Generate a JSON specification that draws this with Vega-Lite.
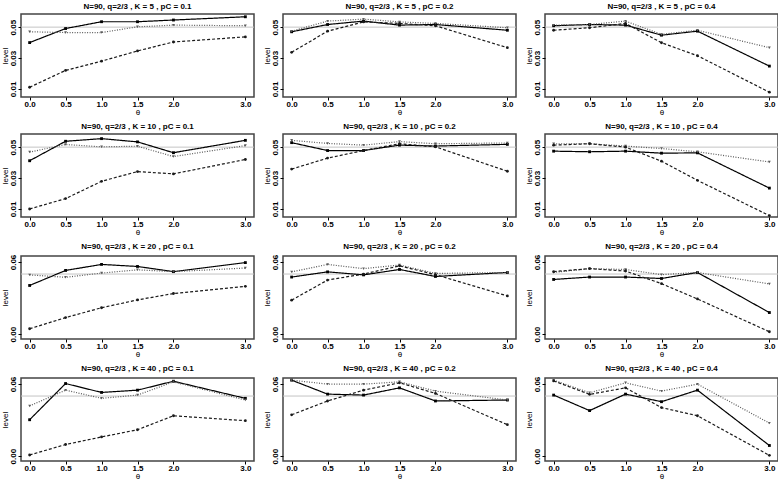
{
"$schema": "https://vega.github.io/schema/vega-lite/v6.json",
"padding": {"left": 0, "top": 2, "right": 0, "bottom": 0},
"background": "white",
"config": {
  "font": "Liberation Sans",
  "view": {"stroke": "#444", "strokeWidth": 1.5},
  "axis": {"labelFont": "Liberation Sans", "labelFontSize": 8, "labelFontWeight": "bold", "titleFont": "Liberation Sans", "titleFontSize": 8, "titleFontWeight": "normal", "tickSize": 3, "tickColor": "#000", "domain": false, "grid": false, "labelColor": "#000", "titleColor": "#000", "labelPadding": 1, "titlePadding": 1, "labelOverlap": false, "labelBound": false, "labelSeparation": -60, "labelFlush": false},
  "axisX": {"labelPadding": 0, "titlePadding": 0},
  "axisY": {"minExtent": 11, "maxExtent": 11},
  "title": {"fontSize": 8, "fontWeight": "bold", "font": "Liberation Sans", "offset": 3, "anchor": "middle", "frame": "group", "color": "#000"},
  "line": {"strokeWidth": 1.2},
  "point": {"filled": true, "size": 8, "opacity": 1}
},
"datasets": {
"d": [
{"k":5,"p":0.1,"s":"solid","t":0,"v":0.040},{"k":5,"p":0.1,"s":"solid","t":0.5,"v":0.0491},{"k":5,"p":0.1,"s":"solid","t":1,"v":0.0535},{"k":5,"p":0.1,"s":"solid","t":1.5,"v":0.0535},{"k":5,"p":0.1,"s":"solid","t":2,"v":0.0546},{"k":5,"p":0.1,"s":"solid","t":3,"v":0.0567},
{"k":5,"p":0.1,"s":"dotted","t":0,"v":0.047},{"k":5,"p":0.1,"s":"dotted","t":0.5,"v":0.0465},{"k":5,"p":0.1,"s":"dotted","t":1,"v":0.0465},{"k":5,"p":0.1,"s":"dotted","t":1.5,"v":0.0502},{"k":5,"p":0.1,"s":"dotted","t":2,"v":0.0513},{"k":5,"p":0.1,"s":"dotted","t":3,"v":0.0509},
{"k":5,"p":0.1,"s":"dashed","t":0,"v":0.0111},{"k":5,"p":0.1,"s":"dashed","t":0.5,"v":0.022},{"k":5,"p":0.1,"s":"dashed","t":1,"v":0.028},{"k":5,"p":0.1,"s":"dashed","t":1.5,"v":0.0346},{"k":5,"p":0.1,"s":"dashed","t":2,"v":0.0404},{"k":5,"p":0.1,"s":"dashed","t":3,"v":0.0437},

{"k":5,"p":0.2,"s":"solid","t":0,"v":0.047},{"k":5,"p":0.2,"s":"solid","t":0.5,"v":0.0517},{"k":5,"p":0.2,"s":"solid","t":1,"v":0.0539},{"k":5,"p":0.2,"s":"solid","t":1.5,"v":0.0513},{"k":5,"p":0.2,"s":"solid","t":2,"v":0.0517},{"k":5,"p":0.2,"s":"solid","t":3,"v":0.048},
{"k":5,"p":0.2,"s":"dotted","t":0,"v":0.0474},{"k":5,"p":0.2,"s":"dotted","t":0.5,"v":0.0539},{"k":5,"p":0.2,"s":"dotted","t":1,"v":0.0552},{"k":5,"p":0.2,"s":"dotted","t":1.5,"v":0.0534},{"k":5,"p":0.2,"s":"dotted","t":2,"v":0.0524},{"k":5,"p":0.2,"s":"dotted","t":3,"v":0.0496},
{"k":5,"p":0.2,"s":"dashed","t":0,"v":0.0337},{"k":5,"p":0.2,"s":"dashed","t":0.5,"v":0.0474},{"k":5,"p":0.2,"s":"dashed","t":1,"v":0.0534},{"k":5,"p":0.2,"s":"dashed","t":1.5,"v":0.0524},{"k":5,"p":0.2,"s":"dashed","t":2,"v":0.0509},{"k":5,"p":0.2,"s":"dashed","t":3,"v":0.0367},

{"k":5,"p":0.4,"s":"solid","t":0,"v":0.0509},{"k":5,"p":0.4,"s":"solid","t":0.5,"v":0.0517},{"k":5,"p":0.4,"s":"solid","t":1,"v":0.0513},{"k":5,"p":0.4,"s":"solid","t":1.5,"v":0.0448},{"k":5,"p":0.4,"s":"solid","t":2,"v":0.0474},{"k":5,"p":0.4,"s":"solid","t":3,"v":0.0248},
{"k":5,"p":0.4,"s":"dotted","t":0,"v":0.0513},{"k":5,"p":0.4,"s":"dotted","t":0.5,"v":0.0517},{"k":5,"p":0.4,"s":"dotted","t":1,"v":0.0539},{"k":5,"p":0.4,"s":"dotted","t":1.5,"v":0.0453},{"k":5,"p":0.4,"s":"dotted","t":2,"v":0.048},{"k":5,"p":0.4,"s":"dotted","t":3,"v":0.0367},
{"k":5,"p":0.4,"s":"dashed","t":0,"v":0.048},{"k":5,"p":0.4,"s":"dashed","t":0.5,"v":0.0496},{"k":5,"p":0.4,"s":"dashed","t":1,"v":0.0524},{"k":5,"p":0.4,"s":"dashed","t":1.5,"v":0.0399},{"k":5,"p":0.4,"s":"dashed","t":2,"v":0.0315},{"k":5,"p":0.4,"s":"dashed","t":3,"v":0.0079},

{"k":10,"p":0.1,"s":"solid","t":0,"v":0.0412},{"k":10,"p":0.1,"s":"solid","t":0.5,"v":0.0538},{"k":10,"p":0.1,"s":"solid","t":1,"v":0.0555},{"k":10,"p":0.1,"s":"solid","t":1.5,"v":0.0534},{"k":10,"p":0.1,"s":"solid","t":2,"v":0.0464},{"k":10,"p":0.1,"s":"solid","t":3,"v":0.0544},
{"k":10,"p":0.1,"s":"dotted","t":0,"v":0.0468},{"k":10,"p":0.1,"s":"dotted","t":0.5,"v":0.0517},{"k":10,"p":0.1,"s":"dotted","t":1,"v":0.0502},{"k":10,"p":0.1,"s":"dotted","t":1.5,"v":0.0506},{"k":10,"p":0.1,"s":"dotted","t":2,"v":0.0439},{"k":10,"p":0.1,"s":"dotted","t":3,"v":0.051},
{"k":10,"p":0.1,"s":"dashed","t":0,"v":0.010},{"k":10,"p":0.1,"s":"dashed","t":0.5,"v":0.0167},{"k":10,"p":0.1,"s":"dashed","t":1,"v":0.0279},{"k":10,"p":0.1,"s":"dashed","t":1.5,"v":0.0342},{"k":10,"p":0.1,"s":"dashed","t":2,"v":0.0327},{"k":10,"p":0.1,"s":"dashed","t":3,"v":0.042},

{"k":10,"p":0.2,"s":"solid","t":0,"v":0.0529},{"k":10,"p":0.2,"s":"solid","t":0.5,"v":0.0478},{"k":10,"p":0.2,"s":"solid","t":1,"v":0.0478},{"k":10,"p":0.2,"s":"solid","t":1.5,"v":0.0513},{"k":10,"p":0.2,"s":"solid","t":2,"v":0.0507},{"k":10,"p":0.2,"s":"solid","t":3,"v":0.0518},
{"k":10,"p":0.2,"s":"dotted","t":0,"v":0.0544},{"k":10,"p":0.2,"s":"dotted","t":0.5,"v":0.0524},{"k":10,"p":0.2,"s":"dotted","t":1,"v":0.0513},{"k":10,"p":0.2,"s":"dotted","t":1.5,"v":0.0536},{"k":10,"p":0.2,"s":"dotted","t":2,"v":0.0522},{"k":10,"p":0.2,"s":"dotted","t":3,"v":0.0527},
{"k":10,"p":0.2,"s":"dashed","t":0,"v":0.0358},{"k":10,"p":0.2,"s":"dashed","t":0.5,"v":0.0429},{"k":10,"p":0.2,"s":"dashed","t":1,"v":0.0478},{"k":10,"p":0.2,"s":"dashed","t":1.5,"v":0.0522},{"k":10,"p":0.2,"s":"dashed","t":2,"v":0.0502},{"k":10,"p":0.2,"s":"dashed","t":3,"v":0.0344},

{"k":10,"p":0.4,"s":"solid","t":0,"v":0.0474},{"k":10,"p":0.4,"s":"solid","t":0.5,"v":0.047},{"k":10,"p":0.4,"s":"solid","t":1,"v":0.0474},{"k":10,"p":0.4,"s":"solid","t":1.5,"v":0.0461},{"k":10,"p":0.4,"s":"solid","t":2,"v":0.0463},{"k":10,"p":0.4,"s":"solid","t":3,"v":0.0235},
{"k":10,"p":0.4,"s":"dotted","t":0,"v":0.0522},{"k":10,"p":0.4,"s":"dotted","t":0.5,"v":0.0522},{"k":10,"p":0.4,"s":"dotted","t":1,"v":0.0507},{"k":10,"p":0.4,"s":"dotted","t":1.5,"v":0.0491},{"k":10,"p":0.4,"s":"dotted","t":2,"v":0.047},{"k":10,"p":0.4,"s":"dotted","t":3,"v":0.0404},
{"k":10,"p":0.4,"s":"dashed","t":0,"v":0.0513},{"k":10,"p":0.4,"s":"dashed","t":0.5,"v":0.0522},{"k":10,"p":0.4,"s":"dashed","t":1,"v":0.050},{"k":10,"p":0.4,"s":"dashed","t":1.5,"v":0.0409},{"k":10,"p":0.4,"s":"dashed","t":2,"v":0.0285},{"k":10,"p":0.4,"s":"dashed","t":3,"v":0.0057},

{"k":20,"p":0.1,"s":"solid","t":0,"v":0.0405},{"k":20,"p":0.1,"s":"solid","t":0.5,"v":0.053},{"k":20,"p":0.1,"s":"solid","t":1,"v":0.058},{"k":20,"p":0.1,"s":"solid","t":1.5,"v":0.0563},{"k":20,"p":0.1,"s":"solid","t":2,"v":0.052},{"k":20,"p":0.1,"s":"solid","t":3,"v":0.0595},
{"k":20,"p":0.1,"s":"dotted","t":0,"v":0.0493},{"k":20,"p":0.1,"s":"dotted","t":0.5,"v":0.0473},{"k":20,"p":0.1,"s":"dotted","t":1,"v":0.0508},{"k":20,"p":0.1,"s":"dotted","t":1.5,"v":0.0535},{"k":20,"p":0.1,"s":"dotted","t":2,"v":0.052},{"k":20,"p":0.1,"s":"dotted","t":3,"v":0.055},
{"k":20,"p":0.1,"s":"dashed","t":0,"v":0.0045},{"k":20,"p":0.1,"s":"dashed","t":0.5,"v":0.0138},{"k":20,"p":0.1,"s":"dashed","t":1,"v":0.022},{"k":20,"p":0.1,"s":"dashed","t":1.5,"v":0.0285},{"k":20,"p":0.1,"s":"dashed","t":2,"v":0.0338},{"k":20,"p":0.1,"s":"dashed","t":3,"v":0.0398},

{"k":20,"p":0.2,"s":"solid","t":0,"v":0.0475},{"k":20,"p":0.2,"s":"solid","t":0.5,"v":0.0518},{"k":20,"p":0.2,"s":"solid","t":1,"v":0.0493},{"k":20,"p":0.2,"s":"solid","t":1.5,"v":0.0538},{"k":20,"p":0.2,"s":"solid","t":2,"v":0.048},{"k":20,"p":0.2,"s":"solid","t":3,"v":0.0513},
{"k":20,"p":0.2,"s":"dotted","t":0,"v":0.0518},{"k":20,"p":0.2,"s":"dotted","t":0.5,"v":0.058},{"k":20,"p":0.2,"s":"dotted","t":1,"v":0.0545},{"k":20,"p":0.2,"s":"dotted","t":1.5,"v":0.0575},{"k":20,"p":0.2,"s":"dotted","t":2,"v":0.0505},{"k":20,"p":0.2,"s":"dotted","t":3,"v":0.0513},
{"k":20,"p":0.2,"s":"dashed","t":0,"v":0.0283},{"k":20,"p":0.2,"s":"dashed","t":0.5,"v":0.045},{"k":20,"p":0.2,"s":"dashed","t":1,"v":0.050},{"k":20,"p":0.2,"s":"dashed","t":1.5,"v":0.0568},{"k":20,"p":0.2,"s":"dashed","t":2,"v":0.0495},{"k":20,"p":0.2,"s":"dashed","t":3,"v":0.0318},

{"k":20,"p":0.4,"s":"solid","t":0,"v":0.0455},{"k":20,"p":0.4,"s":"solid","t":0.5,"v":0.0475},{"k":20,"p":0.4,"s":"solid","t":1,"v":0.0475},{"k":20,"p":0.4,"s":"solid","t":1.5,"v":0.0463},{"k":20,"p":0.4,"s":"solid","t":2,"v":0.0513},{"k":20,"p":0.4,"s":"solid","t":3,"v":0.018},
{"k":20,"p":0.4,"s":"dotted","t":0,"v":0.0513},{"k":20,"p":0.4,"s":"dotted","t":0.5,"v":0.0545},{"k":20,"p":0.4,"s":"dotted","t":1,"v":0.0538},{"k":20,"p":0.4,"s":"dotted","t":1.5,"v":0.0495},{"k":20,"p":0.4,"s":"dotted","t":2,"v":0.0513},{"k":20,"p":0.4,"s":"dotted","t":3,"v":0.0418},
{"k":20,"p":0.4,"s":"dashed","t":0,"v":0.052},{"k":20,"p":0.4,"s":"dashed","t":0.5,"v":0.0545},{"k":20,"p":0.4,"s":"dashed","t":1,"v":0.0525},{"k":20,"p":0.4,"s":"dashed","t":1.5,"v":0.042},{"k":20,"p":0.4,"s":"dashed","t":2,"v":0.0293},{"k":20,"p":0.4,"s":"dashed","t":3,"v":0.002},

{"k":40,"p":0.1,"s":"solid","t":0,"v":0.0303},{"k":40,"p":0.1,"s":"solid","t":0.5,"v":0.0604},{"k":40,"p":0.1,"s":"solid","t":1,"v":0.053},{"k":40,"p":0.1,"s":"solid","t":1.5,"v":0.0549},{"k":40,"p":0.1,"s":"solid","t":2,"v":0.0623},{"k":40,"p":0.1,"s":"solid","t":3,"v":0.0481},
{"k":40,"p":0.1,"s":"dotted","t":0,"v":0.0418},{"k":40,"p":0.1,"s":"dotted","t":0.5,"v":0.0549},{"k":40,"p":0.1,"s":"dotted","t":1,"v":0.0481},{"k":40,"p":0.1,"s":"dotted","t":1.5,"v":0.0508},{"k":40,"p":0.1,"s":"dotted","t":2,"v":0.0618},{"k":40,"p":0.1,"s":"dotted","t":3,"v":0.0467},
{"k":40,"p":0.1,"s":"dashed","t":0,"v":0.001},{"k":40,"p":0.1,"s":"dashed","t":0.5,"v":0.0097},{"k":40,"p":0.1,"s":"dashed","t":1,"v":0.016},{"k":40,"p":0.1,"s":"dashed","t":1.5,"v":0.022},{"k":40,"p":0.1,"s":"dashed","t":2,"v":0.0336},{"k":40,"p":0.1,"s":"dashed","t":3,"v":0.0295},

{"k":40,"p":0.2,"s":"solid","t":0,"v":0.0632},{"k":40,"p":0.2,"s":"solid","t":0.5,"v":0.0516},{"k":40,"p":0.2,"s":"solid","t":1,"v":0.0508},{"k":40,"p":0.2,"s":"solid","t":1.5,"v":0.0568},{"k":40,"p":0.2,"s":"solid","t":2,"v":0.0459},{"k":40,"p":0.2,"s":"solid","t":3,"v":0.0467},
{"k":40,"p":0.2,"s":"dotted","t":0,"v":0.0632},{"k":40,"p":0.2,"s":"dotted","t":0.5,"v":0.0599},{"k":40,"p":0.2,"s":"dotted","t":1,"v":0.0599},{"k":40,"p":0.2,"s":"dotted","t":1.5,"v":0.0618},{"k":40,"p":0.2,"s":"dotted","t":2,"v":0.0541},{"k":40,"p":0.2,"s":"dotted","t":3,"v":0.0467},
{"k":40,"p":0.2,"s":"dashed","t":0,"v":0.0344},{"k":40,"p":0.2,"s":"dashed","t":0.5,"v":0.0459},{"k":40,"p":0.2,"s":"dashed","t":1,"v":0.0549},{"k":40,"p":0.2,"s":"dashed","t":1.5,"v":0.061},{"k":40,"p":0.2,"s":"dashed","t":2,"v":0.0522},{"k":40,"p":0.2,"s":"dashed","t":3,"v":0.0262},

{"k":40,"p":0.4,"s":"solid","t":0,"v":0.0508},{"k":40,"p":0.4,"s":"solid","t":0.5,"v":0.0379},{"k":40,"p":0.4,"s":"solid","t":1,"v":0.0516},{"k":40,"p":0.4,"s":"solid","t":1.5,"v":0.0453},{"k":40,"p":0.4,"s":"solid","t":2,"v":0.0549},{"k":40,"p":0.4,"s":"solid","t":3,"v":0.0089},
{"k":40,"p":0.4,"s":"dotted","t":0,"v":0.0632},{"k":40,"p":0.4,"s":"dotted","t":0.5,"v":0.0527},{"k":40,"p":0.4,"s":"dotted","t":1,"v":0.061},{"k":40,"p":0.4,"s":"dotted","t":1.5,"v":0.0541},{"k":40,"p":0.4,"s":"dotted","t":2,"v":0.0599},{"k":40,"p":0.4,"s":"dotted","t":3,"v":0.0275},
{"k":40,"p":0.4,"s":"dashed","t":0,"v":0.0626},{"k":40,"p":0.4,"s":"dashed","t":0.5,"v":0.0514},{"k":40,"p":0.4,"s":"dashed","t":1,"v":0.0568},{"k":40,"p":0.4,"s":"dashed","t":1.5,"v":0.0404},{"k":40,"p":0.4,"s":"dashed","t":2,"v":0.0336},{"k":40,"p":0.4,"s":"dashed","t":3,"v":0.0007}
],
"ref": [{"v": 0.05}]
},
"spacing": 5,
"vconcat": [
{"spacing": 6, "hconcat": [
{"title": "N=90, q=2/3 , K = 5 , pC = 0.1", "width": 233, "height": 83, "layer": [
 {"data": {"name": "ref"}, "mark": {"type": "rule", "color": "#c4c4c4", "strokeWidth": 1}, "encoding": {"y": {"field": "v", "type": "quantitative", "scale": {"domain": [0.0048, 0.0585], "nice": false, "zero": false}, "axis": {"title": "level", "labelAngle": 270, "labelOverlap": false, "labelSeparation": -60, "values": [0.01, 0.02, 0.03, 0.04, 0.05], "labelExpr": "round(datum.value*100)%2==1 ? format(datum.value,'.2f') : ''"}}}},
 {"data": {"name": "d"}, "transform": [{"filter": "datum.k==5 && datum.p==0.1"}], "mark": "line", "encoding": {"x": {"field": "t", "type": "quantitative", "scale": {"domain": [-0.12, 3.12], "nice": false, "zero": false}, "axis": {"title": "θ", "values": [0, 0.5, 1, 1.5, 2, 3], "format": ".1f"}}, "y": {"field": "v", "type": "quantitative", "scale": {"domain": [0.0048, 0.0585], "nice": false, "zero": false}, "axis": {"title": "level", "labelAngle": 270, "labelOverlap": false, "labelSeparation": -60, "values": [0.01, 0.02, 0.03, 0.04, 0.05], "labelExpr": "round(datum.value*100)%2==1 ? format(datum.value,'.2f') : ''"}}, "color": {"field": "s", "type": "nominal", "scale": {"domain": ["solid", "dashed", "dotted"], "range": ["#000000", "#1a1a1a", "#5a5a5a"]}, "legend": null}, "strokeDash": {"field": "s", "type": "nominal", "scale": {"domain": ["solid", "dashed", "dotted"], "range": [[1, 0], [3, 2], [1, 1.5]]}, "legend": null}}},
 {"data": {"name": "d"}, "transform": [{"filter": "datum.k==5 && datum.p==0.1"}], "mark": "point", "encoding": {"x": {"field": "t", "type": "quantitative"}, "y": {"field": "v", "type": "quantitative"}, "color": {"field": "s", "type": "nominal", "legend": null}, "shape": {"field": "s", "type": "nominal", "scale": {"domain": ["solid", "dashed", "dotted"], "range": ["square", "circle", "triangle-down"]}, "legend": null}}}
]},
{"title": "N=90, q=2/3 , K = 5 , pC = 0.2", "width": 233, "height": 83, "layer": [
 {"data": {"name": "ref"}, "mark": {"type": "rule", "color": "#c4c4c4", "strokeWidth": 1}, "encoding": {"y": {"field": "v", "type": "quantitative", "scale": {"domain": [0.0048, 0.0585], "nice": false, "zero": false}, "axis": {"title": "level", "labelAngle": 270, "labelOverlap": false, "labelSeparation": -60, "values": [0.01, 0.02, 0.03, 0.04, 0.05], "labelExpr": "round(datum.value*100)%2==1 ? format(datum.value,'.2f') : ''"}}}},
 {"data": {"name": "d"}, "transform": [{"filter": "datum.k==5 && datum.p==0.2"}], "mark": "line", "encoding": {"x": {"field": "t", "type": "quantitative", "scale": {"domain": [-0.12, 3.12], "nice": false, "zero": false}, "axis": {"title": "θ", "values": [0, 0.5, 1, 1.5, 2, 3], "format": ".1f"}}, "y": {"field": "v", "type": "quantitative", "scale": {"domain": [0.0048, 0.0585], "nice": false, "zero": false}, "axis": {"title": "level", "labelAngle": 270, "labelOverlap": false, "labelSeparation": -60, "values": [0.01, 0.02, 0.03, 0.04, 0.05], "labelExpr": "round(datum.value*100)%2==1 ? format(datum.value,'.2f') : ''"}}, "color": {"field": "s", "type": "nominal", "scale": {"domain": ["solid", "dashed", "dotted"], "range": ["#000000", "#1a1a1a", "#5a5a5a"]}, "legend": null}, "strokeDash": {"field": "s", "type": "nominal", "scale": {"domain": ["solid", "dashed", "dotted"], "range": [[1, 0], [3, 2], [1, 1.5]]}, "legend": null}}},
 {"data": {"name": "d"}, "transform": [{"filter": "datum.k==5 && datum.p==0.2"}], "mark": "point", "encoding": {"x": {"field": "t", "type": "quantitative"}, "y": {"field": "v", "type": "quantitative"}, "color": {"field": "s", "type": "nominal", "legend": null}, "shape": {"field": "s", "type": "nominal", "scale": {"domain": ["solid", "dashed", "dotted"], "range": ["square", "circle", "triangle-down"]}, "legend": null}}}
]},
{"title": "N=90, q=2/3 , K = 5 , pC = 0.4", "width": 233, "height": 83, "layer": [
 {"data": {"name": "ref"}, "mark": {"type": "rule", "color": "#c4c4c4", "strokeWidth": 1}, "encoding": {"y": {"field": "v", "type": "quantitative", "scale": {"domain": [0.0048, 0.0585], "nice": false, "zero": false}, "axis": {"title": "level", "labelAngle": 270, "labelOverlap": false, "labelSeparation": -60, "values": [0.01, 0.02, 0.03, 0.04, 0.05], "labelExpr": "round(datum.value*100)%2==1 ? format(datum.value,'.2f') : ''"}}}},
 {"data": {"name": "d"}, "transform": [{"filter": "datum.k==5 && datum.p==0.4"}], "mark": "line", "encoding": {"x": {"field": "t", "type": "quantitative", "scale": {"domain": [-0.12, 3.12], "nice": false, "zero": false}, "axis": {"title": "θ", "values": [0, 0.5, 1, 1.5, 2, 3], "format": ".1f"}}, "y": {"field": "v", "type": "quantitative", "scale": {"domain": [0.0048, 0.0585], "nice": false, "zero": false}, "axis": {"title": "level", "labelAngle": 270, "labelOverlap": false, "labelSeparation": -60, "values": [0.01, 0.02, 0.03, 0.04, 0.05], "labelExpr": "round(datum.value*100)%2==1 ? format(datum.value,'.2f') : ''"}}, "color": {"field": "s", "type": "nominal", "scale": {"domain": ["solid", "dashed", "dotted"], "range": ["#000000", "#1a1a1a", "#5a5a5a"]}, "legend": null}, "strokeDash": {"field": "s", "type": "nominal", "scale": {"domain": ["solid", "dashed", "dotted"], "range": [[1, 0], [3, 2], [1, 1.5]]}, "legend": null}}},
 {"data": {"name": "d"}, "transform": [{"filter": "datum.k==5 && datum.p==0.4"}], "mark": "point", "encoding": {"x": {"field": "t", "type": "quantitative"}, "y": {"field": "v", "type": "quantitative"}, "color": {"field": "s", "type": "nominal", "legend": null}, "shape": {"field": "s", "type": "nominal", "scale": {"domain": ["solid", "dashed", "dotted"], "range": ["square", "circle", "triangle-down"]}, "legend": null}}}
]}
]},
{"spacing": 6, "hconcat": [
{"title": "N=90, q=2/3 , K = 10 , pC = 0.1", "width": 233, "height": 83, "layer": [
 {"data": {"name": "ref"}, "mark": {"type": "rule", "color": "#c4c4c4", "strokeWidth": 1}, "encoding": {"y": {"field": "v", "type": "quantitative", "scale": {"domain": [0.0048, 0.0585], "nice": false, "zero": false}, "axis": {"title": "level", "labelAngle": 270, "labelOverlap": false, "labelSeparation": -60, "values": [0.01, 0.02, 0.03, 0.04, 0.05], "labelExpr": "round(datum.value*100)%2==1 ? format(datum.value,'.2f') : ''"}}}},
 {"data": {"name": "d"}, "transform": [{"filter": "datum.k==10 && datum.p==0.1"}], "mark": "line", "encoding": {"x": {"field": "t", "type": "quantitative", "scale": {"domain": [-0.12, 3.12], "nice": false, "zero": false}, "axis": {"title": "θ", "values": [0, 0.5, 1, 1.5, 2, 3], "format": ".1f"}}, "y": {"field": "v", "type": "quantitative", "scale": {"domain": [0.0048, 0.0585], "nice": false, "zero": false}, "axis": {"title": "level", "labelAngle": 270, "labelOverlap": false, "labelSeparation": -60, "values": [0.01, 0.02, 0.03, 0.04, 0.05], "labelExpr": "round(datum.value*100)%2==1 ? format(datum.value,'.2f') : ''"}}, "color": {"field": "s", "type": "nominal", "scale": {"domain": ["solid", "dashed", "dotted"], "range": ["#000000", "#1a1a1a", "#5a5a5a"]}, "legend": null}, "strokeDash": {"field": "s", "type": "nominal", "scale": {"domain": ["solid", "dashed", "dotted"], "range": [[1, 0], [3, 2], [1, 1.5]]}, "legend": null}}},
 {"data": {"name": "d"}, "transform": [{"filter": "datum.k==10 && datum.p==0.1"}], "mark": "point", "encoding": {"x": {"field": "t", "type": "quantitative"}, "y": {"field": "v", "type": "quantitative"}, "color": {"field": "s", "type": "nominal", "legend": null}, "shape": {"field": "s", "type": "nominal", "scale": {"domain": ["solid", "dashed", "dotted"], "range": ["square", "circle", "triangle-down"]}, "legend": null}}}
]},
{"title": "N=90, q=2/3 , K = 10 , pC = 0.2", "width": 233, "height": 83, "layer": [
 {"data": {"name": "ref"}, "mark": {"type": "rule", "color": "#c4c4c4", "strokeWidth": 1}, "encoding": {"y": {"field": "v", "type": "quantitative", "scale": {"domain": [0.0048, 0.0585], "nice": false, "zero": false}, "axis": {"title": "level", "labelAngle": 270, "labelOverlap": false, "labelSeparation": -60, "values": [0.01, 0.02, 0.03, 0.04, 0.05], "labelExpr": "round(datum.value*100)%2==1 ? format(datum.value,'.2f') : ''"}}}},
 {"data": {"name": "d"}, "transform": [{"filter": "datum.k==10 && datum.p==0.2"}], "mark": "line", "encoding": {"x": {"field": "t", "type": "quantitative", "scale": {"domain": [-0.12, 3.12], "nice": false, "zero": false}, "axis": {"title": "θ", "values": [0, 0.5, 1, 1.5, 2, 3], "format": ".1f"}}, "y": {"field": "v", "type": "quantitative", "scale": {"domain": [0.0048, 0.0585], "nice": false, "zero": false}, "axis": {"title": "level", "labelAngle": 270, "labelOverlap": false, "labelSeparation": -60, "values": [0.01, 0.02, 0.03, 0.04, 0.05], "labelExpr": "round(datum.value*100)%2==1 ? format(datum.value,'.2f') : ''"}}, "color": {"field": "s", "type": "nominal", "scale": {"domain": ["solid", "dashed", "dotted"], "range": ["#000000", "#1a1a1a", "#5a5a5a"]}, "legend": null}, "strokeDash": {"field": "s", "type": "nominal", "scale": {"domain": ["solid", "dashed", "dotted"], "range": [[1, 0], [3, 2], [1, 1.5]]}, "legend": null}}},
 {"data": {"name": "d"}, "transform": [{"filter": "datum.k==10 && datum.p==0.2"}], "mark": "point", "encoding": {"x": {"field": "t", "type": "quantitative"}, "y": {"field": "v", "type": "quantitative"}, "color": {"field": "s", "type": "nominal", "legend": null}, "shape": {"field": "s", "type": "nominal", "scale": {"domain": ["solid", "dashed", "dotted"], "range": ["square", "circle", "triangle-down"]}, "legend": null}}}
]},
{"title": "N=90, q=2/3 , K = 10 , pC = 0.4", "width": 233, "height": 83, "layer": [
 {"data": {"name": "ref"}, "mark": {"type": "rule", "color": "#c4c4c4", "strokeWidth": 1}, "encoding": {"y": {"field": "v", "type": "quantitative", "scale": {"domain": [0.0048, 0.0585], "nice": false, "zero": false}, "axis": {"title": "level", "labelAngle": 270, "labelOverlap": false, "labelSeparation": -60, "values": [0.01, 0.02, 0.03, 0.04, 0.05], "labelExpr": "round(datum.value*100)%2==1 ? format(datum.value,'.2f') : ''"}}}},
 {"data": {"name": "d"}, "transform": [{"filter": "datum.k==10 && datum.p==0.4"}], "mark": "line", "encoding": {"x": {"field": "t", "type": "quantitative", "scale": {"domain": [-0.12, 3.12], "nice": false, "zero": false}, "axis": {"title": "θ", "values": [0, 0.5, 1, 1.5, 2, 3], "format": ".1f"}}, "y": {"field": "v", "type": "quantitative", "scale": {"domain": [0.0048, 0.0585], "nice": false, "zero": false}, "axis": {"title": "level", "labelAngle": 270, "labelOverlap": false, "labelSeparation": -60, "values": [0.01, 0.02, 0.03, 0.04, 0.05], "labelExpr": "round(datum.value*100)%2==1 ? format(datum.value,'.2f') : ''"}}, "color": {"field": "s", "type": "nominal", "scale": {"domain": ["solid", "dashed", "dotted"], "range": ["#000000", "#1a1a1a", "#5a5a5a"]}, "legend": null}, "strokeDash": {"field": "s", "type": "nominal", "scale": {"domain": ["solid", "dashed", "dotted"], "range": [[1, 0], [3, 2], [1, 1.5]]}, "legend": null}}},
 {"data": {"name": "d"}, "transform": [{"filter": "datum.k==10 && datum.p==0.4"}], "mark": "point", "encoding": {"x": {"field": "t", "type": "quantitative"}, "y": {"field": "v", "type": "quantitative"}, "color": {"field": "s", "type": "nominal", "legend": null}, "shape": {"field": "s", "type": "nominal", "scale": {"domain": ["solid", "dashed", "dotted"], "range": ["square", "circle", "triangle-down"]}, "legend": null}}}
]}
]},
{"spacing": 6, "hconcat": [
{"title": "N=90, q=2/3 , K = 20 , pC = 0.1", "width": 233, "height": 83, "layer": [
 {"data": {"name": "ref"}, "mark": {"type": "rule", "color": "#c4c4c4", "strokeWidth": 1}, "encoding": {"y": {"field": "v", "type": "quantitative", "scale": {"domain": [-0.004, 0.065], "nice": false, "zero": false}, "axis": {"title": "level", "labelAngle": 270, "labelOverlap": false, "labelSeparation": -60, "values": [0, 0.01, 0.02, 0.03, 0.04, 0.05, 0.06], "labelExpr": "indexof(['0.00','0.02','0.04','0.06'], format(datum.value,'.2f')) >= 0 ? format(datum.value,'.2f') : ''"}}}},
 {"data": {"name": "d"}, "transform": [{"filter": "datum.k==20 && datum.p==0.1"}], "mark": "line", "encoding": {"x": {"field": "t", "type": "quantitative", "scale": {"domain": [-0.12, 3.12], "nice": false, "zero": false}, "axis": {"title": "θ", "values": [0, 0.5, 1, 1.5, 2, 3], "format": ".1f"}}, "y": {"field": "v", "type": "quantitative", "scale": {"domain": [-0.004, 0.065], "nice": false, "zero": false}, "axis": {"title": "level", "labelAngle": 270, "labelOverlap": false, "labelSeparation": -60, "values": [0, 0.01, 0.02, 0.03, 0.04, 0.05, 0.06], "labelExpr": "indexof(['0.00','0.02','0.04','0.06'], format(datum.value,'.2f')) >= 0 ? format(datum.value,'.2f') : ''"}}, "color": {"field": "s", "type": "nominal", "scale": {"domain": ["solid", "dashed", "dotted"], "range": ["#000000", "#1a1a1a", "#5a5a5a"]}, "legend": null}, "strokeDash": {"field": "s", "type": "nominal", "scale": {"domain": ["solid", "dashed", "dotted"], "range": [[1, 0], [3, 2], [1, 1.5]]}, "legend": null}}},
 {"data": {"name": "d"}, "transform": [{"filter": "datum.k==20 && datum.p==0.1"}], "mark": "point", "encoding": {"x": {"field": "t", "type": "quantitative"}, "y": {"field": "v", "type": "quantitative"}, "color": {"field": "s", "type": "nominal", "legend": null}, "shape": {"field": "s", "type": "nominal", "scale": {"domain": ["solid", "dashed", "dotted"], "range": ["square", "circle", "triangle-down"]}, "legend": null}}}
]},
{"title": "N=90, q=2/3 , K = 20 , pC = 0.2", "width": 233, "height": 83, "layer": [
 {"data": {"name": "ref"}, "mark": {"type": "rule", "color": "#c4c4c4", "strokeWidth": 1}, "encoding": {"y": {"field": "v", "type": "quantitative", "scale": {"domain": [-0.004, 0.065], "nice": false, "zero": false}, "axis": {"title": "level", "labelAngle": 270, "labelOverlap": false, "labelSeparation": -60, "values": [0, 0.01, 0.02, 0.03, 0.04, 0.05, 0.06], "labelExpr": "indexof(['0.00','0.02','0.04','0.06'], format(datum.value,'.2f')) >= 0 ? format(datum.value,'.2f') : ''"}}}},
 {"data": {"name": "d"}, "transform": [{"filter": "datum.k==20 && datum.p==0.2"}], "mark": "line", "encoding": {"x": {"field": "t", "type": "quantitative", "scale": {"domain": [-0.12, 3.12], "nice": false, "zero": false}, "axis": {"title": "θ", "values": [0, 0.5, 1, 1.5, 2, 3], "format": ".1f"}}, "y": {"field": "v", "type": "quantitative", "scale": {"domain": [-0.004, 0.065], "nice": false, "zero": false}, "axis": {"title": "level", "labelAngle": 270, "labelOverlap": false, "labelSeparation": -60, "values": [0, 0.01, 0.02, 0.03, 0.04, 0.05, 0.06], "labelExpr": "indexof(['0.00','0.02','0.04','0.06'], format(datum.value,'.2f')) >= 0 ? format(datum.value,'.2f') : ''"}}, "color": {"field": "s", "type": "nominal", "scale": {"domain": ["solid", "dashed", "dotted"], "range": ["#000000", "#1a1a1a", "#5a5a5a"]}, "legend": null}, "strokeDash": {"field": "s", "type": "nominal", "scale": {"domain": ["solid", "dashed", "dotted"], "range": [[1, 0], [3, 2], [1, 1.5]]}, "legend": null}}},
 {"data": {"name": "d"}, "transform": [{"filter": "datum.k==20 && datum.p==0.2"}], "mark": "point", "encoding": {"x": {"field": "t", "type": "quantitative"}, "y": {"field": "v", "type": "quantitative"}, "color": {"field": "s", "type": "nominal", "legend": null}, "shape": {"field": "s", "type": "nominal", "scale": {"domain": ["solid", "dashed", "dotted"], "range": ["square", "circle", "triangle-down"]}, "legend": null}}}
]},
{"title": "N=90, q=2/3 , K = 20 , pC = 0.4", "width": 233, "height": 83, "layer": [
 {"data": {"name": "ref"}, "mark": {"type": "rule", "color": "#c4c4c4", "strokeWidth": 1}, "encoding": {"y": {"field": "v", "type": "quantitative", "scale": {"domain": [-0.004, 0.065], "nice": false, "zero": false}, "axis": {"title": "level", "labelAngle": 270, "labelOverlap": false, "labelSeparation": -60, "values": [0, 0.01, 0.02, 0.03, 0.04, 0.05, 0.06], "labelExpr": "indexof(['0.00','0.02','0.04','0.06'], format(datum.value,'.2f')) >= 0 ? format(datum.value,'.2f') : ''"}}}},
 {"data": {"name": "d"}, "transform": [{"filter": "datum.k==20 && datum.p==0.4"}], "mark": "line", "encoding": {"x": {"field": "t", "type": "quantitative", "scale": {"domain": [-0.12, 3.12], "nice": false, "zero": false}, "axis": {"title": "θ", "values": [0, 0.5, 1, 1.5, 2, 3], "format": ".1f"}}, "y": {"field": "v", "type": "quantitative", "scale": {"domain": [-0.004, 0.065], "nice": false, "zero": false}, "axis": {"title": "level", "labelAngle": 270, "labelOverlap": false, "labelSeparation": -60, "values": [0, 0.01, 0.02, 0.03, 0.04, 0.05, 0.06], "labelExpr": "indexof(['0.00','0.02','0.04','0.06'], format(datum.value,'.2f')) >= 0 ? format(datum.value,'.2f') : ''"}}, "color": {"field": "s", "type": "nominal", "scale": {"domain": ["solid", "dashed", "dotted"], "range": ["#000000", "#1a1a1a", "#5a5a5a"]}, "legend": null}, "strokeDash": {"field": "s", "type": "nominal", "scale": {"domain": ["solid", "dashed", "dotted"], "range": [[1, 0], [3, 2], [1, 1.5]]}, "legend": null}}},
 {"data": {"name": "d"}, "transform": [{"filter": "datum.k==20 && datum.p==0.4"}], "mark": "point", "encoding": {"x": {"field": "t", "type": "quantitative"}, "y": {"field": "v", "type": "quantitative"}, "color": {"field": "s", "type": "nominal", "legend": null}, "shape": {"field": "s", "type": "nominal", "scale": {"domain": ["solid", "dashed", "dotted"], "range": ["square", "circle", "triangle-down"]}, "legend": null}}}
]}
]},
{"spacing": 6, "hconcat": [
{"title": "N=90, q=2/3 , K = 40 , pC = 0.1", "width": 233, "height": 83, "layer": [
 {"data": {"name": "ref"}, "mark": {"type": "rule", "color": "#c4c4c4", "strokeWidth": 1}, "encoding": {"y": {"field": "v", "type": "quantitative", "scale": {"domain": [-0.004, 0.065], "nice": false, "zero": false}, "axis": {"title": "level", "labelAngle": 270, "labelOverlap": false, "labelSeparation": -60, "values": [0, 0.01, 0.02, 0.03, 0.04, 0.05, 0.06], "labelExpr": "indexof(['0.00','0.02','0.04','0.06'], format(datum.value,'.2f')) >= 0 ? format(datum.value,'.2f') : ''"}}}},
 {"data": {"name": "d"}, "transform": [{"filter": "datum.k==40 && datum.p==0.1"}], "mark": "line", "encoding": {"x": {"field": "t", "type": "quantitative", "scale": {"domain": [-0.12, 3.12], "nice": false, "zero": false}, "axis": {"title": "θ", "values": [0, 0.5, 1, 1.5, 2, 3], "format": ".1f"}}, "y": {"field": "v", "type": "quantitative", "scale": {"domain": [-0.004, 0.065], "nice": false, "zero": false}, "axis": {"title": "level", "labelAngle": 270, "labelOverlap": false, "labelSeparation": -60, "values": [0, 0.01, 0.02, 0.03, 0.04, 0.05, 0.06], "labelExpr": "indexof(['0.00','0.02','0.04','0.06'], format(datum.value,'.2f')) >= 0 ? format(datum.value,'.2f') : ''"}}, "color": {"field": "s", "type": "nominal", "scale": {"domain": ["solid", "dashed", "dotted"], "range": ["#000000", "#1a1a1a", "#5a5a5a"]}, "legend": null}, "strokeDash": {"field": "s", "type": "nominal", "scale": {"domain": ["solid", "dashed", "dotted"], "range": [[1, 0], [3, 2], [1, 1.5]]}, "legend": null}}},
 {"data": {"name": "d"}, "transform": [{"filter": "datum.k==40 && datum.p==0.1"}], "mark": "point", "encoding": {"x": {"field": "t", "type": "quantitative"}, "y": {"field": "v", "type": "quantitative"}, "color": {"field": "s", "type": "nominal", "legend": null}, "shape": {"field": "s", "type": "nominal", "scale": {"domain": ["solid", "dashed", "dotted"], "range": ["square", "circle", "triangle-down"]}, "legend": null}}}
]},
{"title": "N=90, q=2/3 , K = 40 , pC = 0.2", "width": 233, "height": 83, "layer": [
 {"data": {"name": "ref"}, "mark": {"type": "rule", "color": "#c4c4c4", "strokeWidth": 1}, "encoding": {"y": {"field": "v", "type": "quantitative", "scale": {"domain": [-0.004, 0.065], "nice": false, "zero": false}, "axis": {"title": "level", "labelAngle": 270, "labelOverlap": false, "labelSeparation": -60, "values": [0, 0.01, 0.02, 0.03, 0.04, 0.05, 0.06], "labelExpr": "indexof(['0.00','0.02','0.04','0.06'], format(datum.value,'.2f')) >= 0 ? format(datum.value,'.2f') : ''"}}}},
 {"data": {"name": "d"}, "transform": [{"filter": "datum.k==40 && datum.p==0.2"}], "mark": "line", "encoding": {"x": {"field": "t", "type": "quantitative", "scale": {"domain": [-0.12, 3.12], "nice": false, "zero": false}, "axis": {"title": "θ", "values": [0, 0.5, 1, 1.5, 2, 3], "format": ".1f"}}, "y": {"field": "v", "type": "quantitative", "scale": {"domain": [-0.004, 0.065], "nice": false, "zero": false}, "axis": {"title": "level", "labelAngle": 270, "labelOverlap": false, "labelSeparation": -60, "values": [0, 0.01, 0.02, 0.03, 0.04, 0.05, 0.06], "labelExpr": "indexof(['0.00','0.02','0.04','0.06'], format(datum.value,'.2f')) >= 0 ? format(datum.value,'.2f') : ''"}}, "color": {"field": "s", "type": "nominal", "scale": {"domain": ["solid", "dashed", "dotted"], "range": ["#000000", "#1a1a1a", "#5a5a5a"]}, "legend": null}, "strokeDash": {"field": "s", "type": "nominal", "scale": {"domain": ["solid", "dashed", "dotted"], "range": [[1, 0], [3, 2], [1, 1.5]]}, "legend": null}}},
 {"data": {"name": "d"}, "transform": [{"filter": "datum.k==40 && datum.p==0.2"}], "mark": "point", "encoding": {"x": {"field": "t", "type": "quantitative"}, "y": {"field": "v", "type": "quantitative"}, "color": {"field": "s", "type": "nominal", "legend": null}, "shape": {"field": "s", "type": "nominal", "scale": {"domain": ["solid", "dashed", "dotted"], "range": ["square", "circle", "triangle-down"]}, "legend": null}}}
]},
{"title": "N=90, q=2/3 , K = 40 , pC = 0.4", "width": 233, "height": 83, "layer": [
 {"data": {"name": "ref"}, "mark": {"type": "rule", "color": "#c4c4c4", "strokeWidth": 1}, "encoding": {"y": {"field": "v", "type": "quantitative", "scale": {"domain": [-0.004, 0.065], "nice": false, "zero": false}, "axis": {"title": "level", "labelAngle": 270, "labelOverlap": false, "labelSeparation": -60, "values": [0, 0.01, 0.02, 0.03, 0.04, 0.05, 0.06], "labelExpr": "indexof(['0.00','0.02','0.04','0.06'], format(datum.value,'.2f')) >= 0 ? format(datum.value,'.2f') : ''"}}}},
 {"data": {"name": "d"}, "transform": [{"filter": "datum.k==40 && datum.p==0.4"}], "mark": "line", "encoding": {"x": {"field": "t", "type": "quantitative", "scale": {"domain": [-0.12, 3.12], "nice": false, "zero": false}, "axis": {"title": "θ", "values": [0, 0.5, 1, 1.5, 2, 3], "format": ".1f"}}, "y": {"field": "v", "type": "quantitative", "scale": {"domain": [-0.004, 0.065], "nice": false, "zero": false}, "axis": {"title": "level", "labelAngle": 270, "labelOverlap": false, "labelSeparation": -60, "values": [0, 0.01, 0.02, 0.03, 0.04, 0.05, 0.06], "labelExpr": "indexof(['0.00','0.02','0.04','0.06'], format(datum.value,'.2f')) >= 0 ? format(datum.value,'.2f') : ''"}}, "color": {"field": "s", "type": "nominal", "scale": {"domain": ["solid", "dashed", "dotted"], "range": ["#000000", "#1a1a1a", "#5a5a5a"]}, "legend": null}, "strokeDash": {"field": "s", "type": "nominal", "scale": {"domain": ["solid", "dashed", "dotted"], "range": [[1, 0], [3, 2], [1, 1.5]]}, "legend": null}}},
 {"data": {"name": "d"}, "transform": [{"filter": "datum.k==40 && datum.p==0.4"}], "mark": "point", "encoding": {"x": {"field": "t", "type": "quantitative"}, "y": {"field": "v", "type": "quantitative"}, "color": {"field": "s", "type": "nominal", "legend": null}, "shape": {"field": "s", "type": "nominal", "scale": {"domain": ["solid", "dashed", "dotted"], "range": ["square", "circle", "triangle-down"]}, "legend": null}}}
]}
]}
]
}
